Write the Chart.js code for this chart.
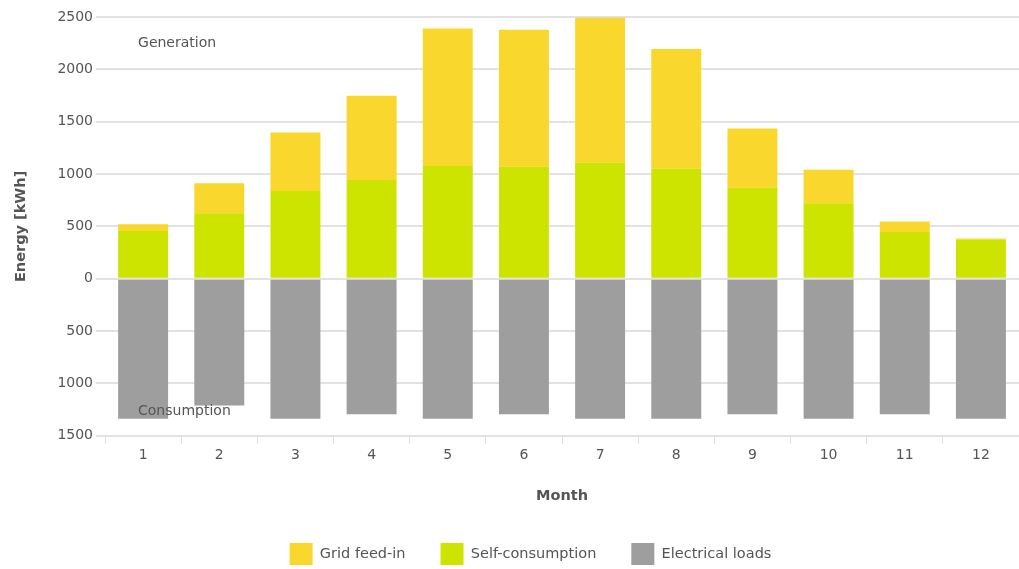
<!DOCTYPE html>
<html lang="en">
    <head>
        <meta charset="utf-8" />
        <script src="https://cdn.jsdelivr.net/npm/chart.js@4/dist/chart.umd.min.js"></script>
        <title>Energy per month</title>
        <style>
            html, body { margin: 0; padding: 0; background: #fff; }
            #wrap { width: 1019px; height: 569px; }
        </style>
    </head>
    <body>
        <div id="wrap"><canvas id="energia"></canvas></div>
        <script>
            var months = ["1", "2", "3", "4", "5", "6", "7", "8", "9", "10", "11", "12"];
            var selfConsumption = [455, 625, 838, 943, 1078, 1070, 1108, 1053, 868, 722, 447, 372];
            var gridFeedIn = [66, 288, 558, 805, 1313, 1308, 1385, 1142, 567, 320, 100, 12];
            var electricalLoads = [-1338, -1210, -1338, -1295, -1338, -1295, -1338, -1338, -1295, -1338, -1295, -1338];

            var gris = "#555555";
            var fuente = "'DejaVu Sans', Verdana, sans-serif";

            // texts "Generation" / "Consumption" inside the plot
            var rotulos = {
                id: "rotulos",
                afterLayout: function (chart) {
                    // legend sits a bit right of the page centre in the original
                    chart.legend.left += 42;
                },
                afterDatasetsDraw: function (chart) {
                    var ctx = chart.ctx, y = chart.scales.y, x0 = chart.chartArea.left + 33;
                    ctx.save();
                    ctx.font = "14px " + fuente;
                    ctx.fillStyle = gris;
                    ctx.textBaseline = "middle";
                    ctx.fillText("Generation", x0, y.getPixelForValue(2250));
                    ctx.fillText("Consumption", x0, y.getPixelForValue(-1265));
                    ctx.restore();
                },
            };

            new Chart(document.getElementById("energia").getContext("2d"), {
                type: "bar",
                data: {
                    labels: months,
                    datasets: [
                        { label: "Electrical loads", data: electricalLoads, backgroundColor: "#9e9e9e" },
                        { label: "Self-consumption", data: selfConsumption, backgroundColor: "#cce400" },
                        { label: "Grid feed-in", data: gridFeedIn, backgroundColor: "#f9d72c" },
                    ],
                },
                options: {
                    responsive: true,
                    maintainAspectRatio: false,
                    animation: false,
                    layout: { padding: { top: 17, right: 0, left: 0, bottom: -6 } },
                    datasets: { bar: { categoryPercentage: 1, barPercentage: 0.656 } },
                    scales: {
                        x: {
                            stacked: true,
                            grid: { offset: true, drawOnChartArea: false, tickLength: 8, color: "#dddddd", lineWidth: 1 },
                            border: { color: "#e2e2e2", width: 2 },
                            ticks: { color: gris, padding: 3, font: { family: fuente, size: 14 } },
                            title: {
                                display: true,
                                text: "Month",
                                color: gris,
                                font: { family: fuente, size: 14.5, weight: "bold" },
                                padding: { top: 21, bottom: 3 },
                            },
                        },
                        y: {
                            stacked: true,
                            min: -1500,
                            max: 2500,
                            grid: { color: "#e2e2e2", lineWidth: 2, tickLength: 9 },
                            border: { display: false },
                            ticks: {
                                stepSize: 500,
                                color: gris,
                                padding: 3,
                                font: { family: fuente, size: 14 },
                                callback: function (v) {
                                    return Math.abs(v);
                                },
                            },
                            title: {
                                display: true,
                                text: "Energy [kWh]",
                                color: gris,
                                font: { family: fuente, size: 14.5, weight: "bold" },
                                padding: { top: 13, bottom: 24 },
                            },
                        },
                    },
                    plugins: {
                        tooltip: { enabled: false },
                        legend: {
                            position: "bottom",
                            reverse: true,
                            labels: {
                                boxWidth: 23,
                                boxHeight: 22,
                                padding: 35,
                                color: gris,
                                font: { family: fuente, size: 14.5 },
                            },
                        },
                    },
                },
                plugins: [rotulos],
            });
        </script>
    </body>
</html>
